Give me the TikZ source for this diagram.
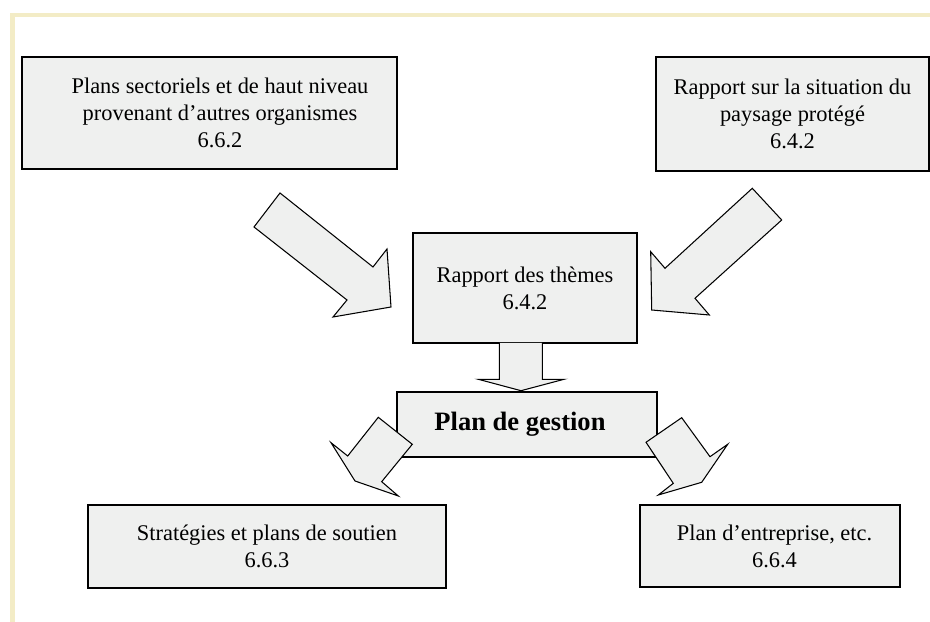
\documentclass[tikz,border=0pt]{standalone}
\usepackage{fontspec}
\setmainfont{Liberation Serif}
\usetikzlibrary{positioning}
\definecolor{boxgray}{RGB}{239,240,239}
\definecolor{frameyellow}{RGB}{243,236,198}

\begin{document}
\begin{tikzpicture}[
    % GLOBAL CFG
    x=0.2mm, y=-0.2mm,
    font=\fontsize{12.75}{15.3}\selectfont,
    % Styles
    box/.style={% For the text boxes
        rectangle,
        draw,
        fill=boxgray,
        line width=0.8pt,
        align=center,
        inner sep=0pt,
        },
    blockarrow/.style={% For the big hollow arrows
        draw,
        fill=boxgray,
        line width=0.6pt,
        line join=miter,
        },
    pageframe/.style={% For the yellow border of the page
        fill=frameyellow,
        },
    boldtext/.style={% something bigger for the main box
        font=\bfseries\fontsize{15.1}{18}\selectfont
        },
    ]

    \useasboundingbox (0,0) rectangle (930,622);

    % Yellow border, top and left
    \fill[pageframe] (10,13) rectangle (930,17.3);
    \fill[pageframe] (10,13) rectangle (15,622);

    % Draw the boxes
    \node [box, minimum width=75mm, minimum height=22.4mm,
           label={[align=center, xshift=2.1mm]center:Plans sectoriels et de haut niveau\\provenant d’autres organismes\\6.6.2}]
           (plans) at (209.5,113) {};
    \node [box, minimum width=54.6mm, minimum height=22.8mm] (situation) at (792.5,114)
          {Rapport sur la situation du\\paysage protégé\\6.4.2};
    \node [box, minimum width=44.8mm, minimum height=22mm] (themes) at (525,288)
          {Rapport des thèmes\\6.4.2};
    \node [box, boldtext, minimum width=52mm, minimum height=13mm] (gestion) at (527,424.5)
          {\hspace*{-2.8mm}Plan de gestion};
    \node [box, minimum width=71.6mm, minimum height=16.6mm] (soutien) at (267,546.5)
          {Stratégies et plans de soutien\\6.6.3};
    \node [box, minimum width=52mm, minimum height=16.4mm] (entreprise) at (770,546)
          {\hspace*{1.8mm}Plan d’entreprise, etc.\\\hspace*{1.8mm}6.6.4};

    % Block arrows (drawn after the boxes, they overlap them a little)
    % plans -> themes
    \draw [blockarrow] (280,193) -- (373,267) -- (387,249) -- (391,307)
          -- (333,317) -- (347,300) -- (254,227) -- cycle;
    % situation -> themes
    \draw [blockarrow] (752.3,188.3) -- (781.7,220) -- (695,298.3) -- (709.3,315)
          -- (651.7,310) -- (650.7,251.7) -- (665,268.3) -- cycle;
    % themes -> gestion
    \draw [blockarrow] (499.3,343) -- (499.3,379.3) -- (478.3,379.3) -- (521,390.7)
          -- (564,379.3) -- (542.3,379.3) -- (542.3,343);
    % gestion -> soutien
    \draw [blockarrow] (378.3,417.3) -- (412.3,444.3) -- (381.7,481.7) -- (398.3,496)
          -- (355,481) -- (331,442.7) -- (347.7,456) -- cycle;
    % gestion -> entreprise
    \draw [blockarrow] (681.7,417.7) -- (710,456.7) -- (727.7,444.3) -- (701.7,482.3)
          -- (658.3,495) -- (673.3,483.3) -- (646,442.3) -- cycle;

\end{tikzpicture}
\end{document}
